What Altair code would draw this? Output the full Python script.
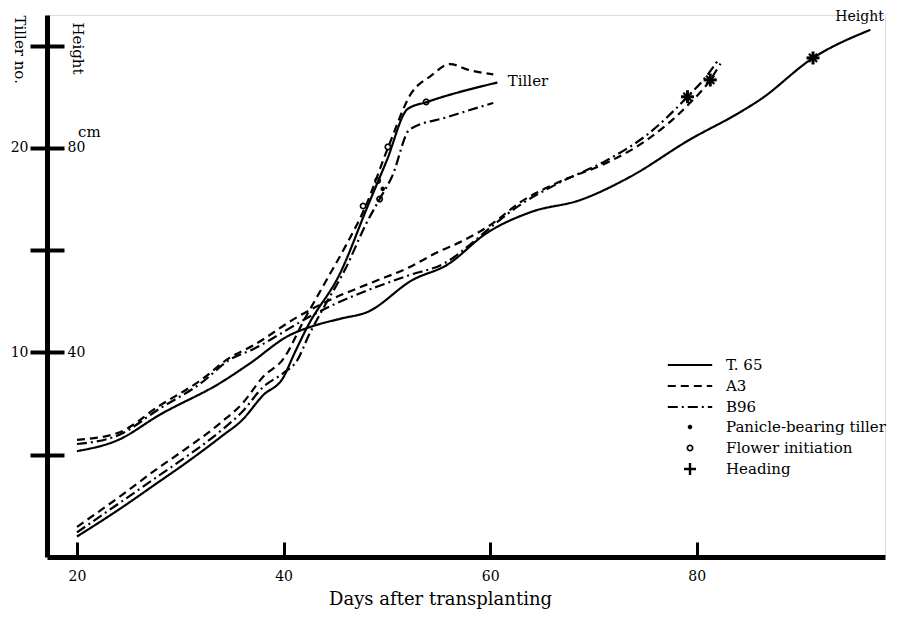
import math
import altair as alt
import pandas as pd

SERIF = "DejaVu Serif"

varieties = ["T. 65", "A3", "B96"]
marker_types = ["Panicle-bearing tiller", "Flower initiation", "Heading"]

# ---- Plant height (cm) ----
t65_h_day = [20, 24, 28, 34, 36.7, 40.6, 42.6, 45.5, 48.1, 52.5, 55.8, 59.7, 64, 68.7, 73.5, 79.3, 84.2, 86.1, 91.25, 96.8]
t65_h_cm = [20.7, 22.9, 27.8, 34.2, 37.8, 43.4, 45.0, 46.6, 47.9, 54.2, 57.1, 63.4, 67.5, 69.8, 74.3, 81.6, 87.0, 89.4, 97.6, 103.1]

a3_h_day = [20, 24, 28, 32, 34.8, 37, 41.3, 44, 48.7, 52, 54.8, 57.5, 60, 63, 66.5, 71.3, 75.2, 79.1, 81.3, 82.3]
a3_h_cm = [22.9, 24.3, 29.6, 34.6, 39.0, 41.3, 46.9, 49.8, 53.8, 56.5, 59.5, 62.0, 64.9, 69.5, 73.2, 77.1, 81.6, 88.3, 93.3, 96.5]

b96_h_day = [20, 24, 28, 32, 34.8, 37, 42.8, 45, 48.7, 52, 55.8, 58, 60, 63, 66.5, 71.3, 75.2, 79.1, 81.0, 82.0]
b96_h_cm = [22.1, 23.8, 29.0, 34.0, 38.6, 40.6, 47.3, 49.5, 52.6, 55.0, 57.7, 61.0, 64.4, 69.0, 73.0, 77.6, 82.6, 90.0, 94.2, 97.0]

# ---- Tiller number ----
t65_t_day = [20, 24, 28, 30, 34, 36, 38, 40, 41, 42.3, 45.5, 48.1, 50, 52, 53.9, 60.7]
t65_t_no = [1.0, 2.3, 3.7, 4.4, 5.9, 6.7, 7.9, 8.8, 9.9, 11.25, 13.9, 17.1, 19.4, 21.9, 22.25, 23.2]

a3_t_day = [20, 24, 28, 30, 34, 36, 38, 40, 42, 44, 46, 47.9, 50.1, 52.4, 54.2, 56.1, 58, 60.3]
a3_t_no = [1.47, 2.9, 4.4, 5.1, 6.6, 7.5, 8.8, 9.7, 11.6, 13.4, 15.2, 17.1, 20.0, 22.7, 23.5, 24.1, 23.8, 23.6]

b96_t_day = [20, 24, 28, 30, 34, 36, 38, 40, 41.3, 42.5, 44, 46, 48, 49.3, 50.5, 52.2, 55.8, 60.3]
b96_t_no = [1.2, 2.6, 4.0, 4.7, 6.2, 7.1, 8.3, 9.0, 9.6, 10.9, 12.3, 14.1, 16.3, 17.5, 18.6, 20.9, 21.5, 22.2]

# ---- Event markers ----
flower_day = [47.7, 49.1, 49.3, 50.1, 53.8]
flower_tiller = [17.16, 18.4, 17.5, 20.05, 22.25]
panicle_day = [49.6]
panicle_tiller = [18.0]
heading_day = [79.1, 81.3, 91.25]
heading_cm = [90.0, 93.3, 97.6]

# ---- Annotations ----
ann_text = ["Tiller", "Height", "cm"]
ann_day = [61.7, 93.4, 20.1]
ann_tiller = [23.03, 26.22, 20.54]
ann_size = [15, 14, 15]

# ---- Axis ticks ----
x_tick_values = [20, 40, 60, 80]
y_tick_values = [5, 10, 15, 20, 25]

# ---- Build tables ----
line_rows = []
for var, hd, hv, td, tv in [
    ("T. 65", t65_h_day, t65_h_cm, t65_t_day, t65_t_no),
    ("A3", a3_h_day, a3_h_cm, a3_t_day, a3_t_no),
    ("B96", b96_h_day, b96_h_cm, b96_t_day, b96_t_no),
]:
    for d, v in zip(hd, hv):
        line_rows.append({"day": d, "y": v / 4.0, "variety": var, "series": var + " height"})
    for d, v in zip(td, tv):
        line_rows.append({"day": d, "y": v, "variety": var, "series": var + " tiller"})
lines_df = pd.DataFrame(line_rows)

mk_rows = []
for d, v in zip(panicle_day, panicle_tiller):
    mk_rows.append({"day": d, "y": v, "marker": "Panicle-bearing tiller"})
for d, v in zip(flower_day, flower_tiller):
    mk_rows.append({"day": d, "y": v, "marker": "Flower initiation"})
for d, v in zip(heading_day, heading_cm):
    mk_rows.append({"day": d, "y": v / 4.0, "marker": "Heading"})
markers_df = pd.DataFrame(mk_rows)
heading_df = markers_df[markers_df["marker"] == "Heading"]

ann_df = pd.DataFrame({"day": ann_day, "y": ann_tiller, "text": ann_text, "fs": ann_size})


# ---- Symbol shapes (unit-square SVG paths) ----
def ring_path(r, n=20, reverse=False):
    pts = []
    for i in range(n):
        a = 2 * math.pi * i / n
        if reverse:
            a = -a
        pts.append(f"{r * math.cos(a):.3f},{r * math.sin(a):.3f}")
    return "M" + "L".join(pts) + "Z"


DOT = ring_path(0.38)
OPEN_CIRCLE = ring_path(0.58) + ring_path(0.30, reverse=True)
PLUS_FILLED = "M-1,-0.2H-0.2V-1H0.2V-0.2H1V0.2H0.2V1H-0.2V0.2H-1Z"
PLUS = "M-1,0H1M0,-1V1"
XMARK = "M-0.72,-0.72L0.72,0.72M-0.72,0.72L0.72,-0.72"

W, H = 838, 542
xs = alt.Scale(domain=[17.1, 98.22], nice=False, zero=False)
ys = alt.Scale(domain=[0, 26.5], nice=False, zero=False)

x_main = alt.X(
    "day:Q", scale=xs,
    axis=alt.Axis(
        orient="bottom", values=x_tick_values, ticks=False, grid=False,
        domainWidth=5, domainColor="black",
        labelFont=SERIF, labelFontSize=14, labelColor="black", labelPadding=12,
        title="Days after transplanting", titleFont=SERIF, titleFontSize=18,
        titleFontWeight="normal", titleColor="black",
        titleX=393, titleY=42, titleAlign="center", titleBaseline="middle",
    ),
)
y_main = alt.Y(
    "y:Q", scale=ys,
    axis=alt.Axis(
        orient="left", values=y_tick_values, grid=False,
        tickSize=17, tickWidth=4, tickColor="black",
        domainWidth=5, domainColor="black",
        labelExpr="datum.value == 10 || datum.value == 20 ? datum.label : ''",
        labelFont=SERIF, labelFontSize=14, labelColor="black", labelPadding=2,
        title="Tiller no.", titleFont=SERIF, titleFontSize=15, titleFontWeight="normal",
        titleColor="black", titleAngle=90, titleX=-28, titleY=0,
        titleAlign="left", titleBaseline="middle",
    ),
)
x_ticks = alt.X(
    "day:Q", scale=xs,
    axis=alt.Axis(
        orient="top", offset=-H, values=x_tick_values, tickSize=15, tickWidth=3,
        tickColor="black", labels=False, domain=False, grid=False, title=None,
    ),
)
y_cm = alt.Y(
    "y:Q", scale=ys,
    axis=alt.Axis(
        orient="right", offset=-W, values=y_tick_values, grid=False,
        tickSize=17, tickWidth=4, tickColor="black", domain=False,
        labelExpr="datum.value == 10 || datum.value == 20 ? format(datum.value * 4, 'd') : ''",
        labelFont=SERIF, labelFontSize=14, labelColor="black", labelPadding=3,
        title="Height", titleFont=SERIF, titleFontSize=15, titleFontWeight="normal",
        titleColor="black", titleAngle=90, titleX=30, titleY=7,
        titleAlign="left", titleBaseline="middle",
    ),
)
x_none = alt.X("day:Q", scale=xs, axis=None)
y_none = alt.Y("y:Q", scale=ys, axis=None)

line_legend = alt.Legend(
    orient="none", legendX=635.5, legendY=342.5, direction="vertical", title=None,
    padding=0, rowPadding=5, labelFont=SERIF, labelFontSize=15, labelColor="black",
    labelOffset=28.5, labelLimit=400, symbolType="M-3.7,0H3.7", symbolSize=144,
    symbolStrokeWidth=2.2, symbolStrokeColor="black",
)
marker_legend = alt.Legend(
    orient="none", legendX=635.5, legendY=404.5, direction="vertical", title=None,
    padding=0, rowPadding=5, labelFont=SERIF, labelFontSize=15, labelColor="black",
    labelOffset=28.5, labelLimit=400, symbolFillColor="black", symbolStrokeWidth=0,
    symbolSize=144, symbolOpacity=1,
)

lines = alt.Chart(lines_df).mark_line(
    color="black", strokeWidth=2.2, interpolate="monotone"
).encode(
    x=x_main,
    y=y_main,
    strokeDash=alt.StrokeDash(
        "variety:N",
        scale=alt.Scale(domain=varieties, range=[[1, 0], [8, 5], [10, 4, 2, 4]]),
        legend=line_legend,
    ),
    detail="series:N",
)

markers = alt.Chart(markers_df).mark_point(
    filled=True, color="black", size=144, opacity=1, strokeWidth=0
).encode(
    x=x_ticks,
    y=y_cm,
    shape=alt.Shape(
        "marker:N",
        scale=alt.Scale(domain=marker_types, range=[DOT, OPEN_CIRCLE, PLUS_FILLED]),
        legend=marker_legend,
    ),
)

heading_bold = alt.Chart(heading_df).mark_point(
    shape=PLUS, filled=False, stroke="black", strokeWidth=2.8, size=170, opacity=1
).encode(x=x_none, y=y_none)

asterisk = alt.Chart(heading_df).mark_point(
    shape=XMARK, filled=False, stroke="black", strokeWidth=2.2, size=130, opacity=1
).encode(x=x_none, y=y_none)

labels = alt.Chart(ann_df).mark_text(
    align="left", baseline="alphabetic", font=SERIF, color="black"
).encode(x=x_none, y=y_none, text="text:N", size=alt.Size("fs:Q", scale=None, legend=None))

chart = alt.layer(lines, markers, heading_bold, asterisk, labels).resolve_axis(
    x="independent", y="independent"
).properties(
    width=W, height=H,
    autosize=alt.AutoSizeParams(type="none"),
    padding={"left": 39, "top": 7, "right": 4, "bottom": 54},
    background="white",
).configure_view(stroke=None).configure(font=SERIF)

chart.save("out.html", embed_options={"renderer": "svg", "actions": False})
